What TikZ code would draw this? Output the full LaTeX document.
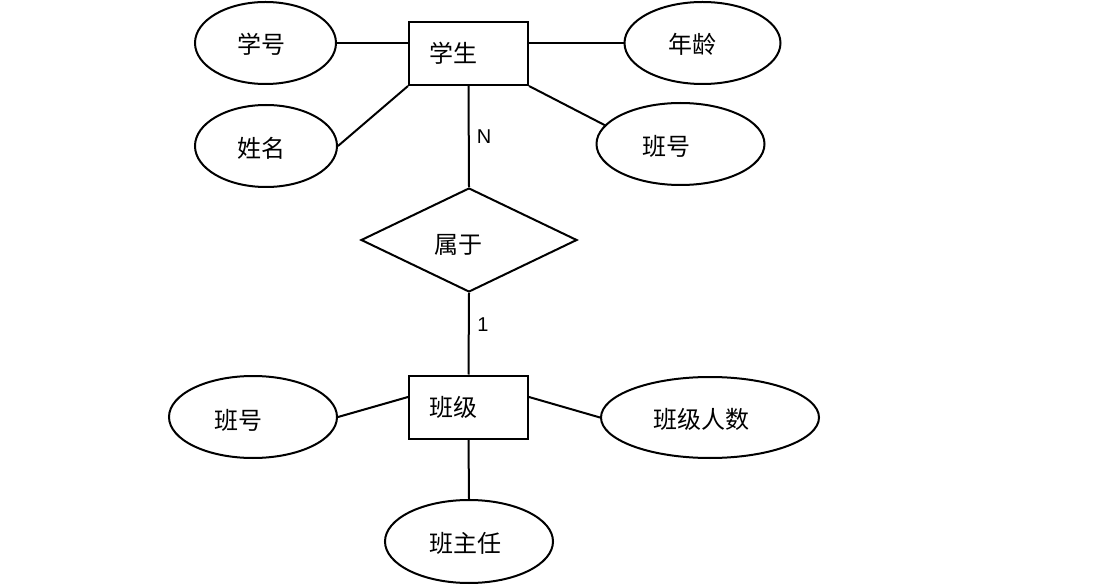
\documentclass[tikz,border=0pt]{standalone}
\usepackage{fontspec}
\setmainfont{Liberation Sans}
\newfontfamily\cjk{Noto Sans CJK SC}
\usetikzlibrary{shapes.geometric}
\newcommand{\lowtxt}[2][2pt]{\raisebox{-#1}[\height][\depth]{#2}}
\begin{document}
\begin{tikzpicture}[x=1pt,y=-1pt,line width=2pt,
  attr/.style={draw,ellipse,inner sep=0pt,font=\cjk\fontsize{24}{28}\selectfont},
  entity/.style={draw,rectangle,minimum width=119pt,minimum height=63pt,inner xsep=20pt,text width=79pt,align=left,font=\cjk\fontsize{24}{28}\selectfont},
  rel/.style={draw,diamond,minimum width=216pt,minimum height=104pt,inner sep=0pt,font=\cjk\fontsize{24}{28}\selectfont},
  card/.style={font=\fontsize{20}{24}\selectfont,inner sep=0pt}]
\useasboundingbox (0,0) rectangle (1106,585);
\node[entity] (s) at (468.5,53.5) {学生};
\node[attr,minimum width=141pt,minimum height=82pt] (xh) at (265.5,43) {\hspace*{-8pt}\lowtxt[1pt]{学号}};
\node[attr,minimum width=156pt,minimum height=82pt] (nl) at (702.5,43) {\hspace*{-20pt}\lowtxt[1pt]{年龄}};
\node[attr,minimum width=142pt,minimum height=82pt] (xm) at (266,146) {\hspace*{-10pt}\lowtxt{姓名}};
\node[attr,minimum width=168pt,minimum height=82pt] (bh) at (680.5,144) {\hspace*{-28pt}\lowtxt{班号}};
\node[rel] (d) at (469,240) {\hspace*{-22pt}\lowtxt[5pt]{属于}};
\node[entity] (c) at (468.5,407) {班级};
\node[attr,minimum width=168pt,minimum height=82pt] (bl) at (253,417) {\hspace*{-30pt}\lowtxt[3pt]{班号}};
\node[attr,minimum width=218pt,minimum height=81pt] (bn) at (710,417.5) {\hspace*{-18pt}\lowtxt{班级人数}};
\node[attr,minimum width=168pt,minimum height=83pt] (bz) at (469,541.5) {\hspace*{-8pt}\lowtxt{班主任}};
\node[card] (n) at (484,137) {N};
\node[card] (one) at (483,325) {1};
\draw (xh.east) -- (xh.east -| s.west);
\draw (s.east |- nl.west) -- (nl.west);
\draw (xm.east) -- (s.south west);
\draw (s.south east) -- (bh.166);
\draw (s.south) -- (d.north);
\draw (d.south) -- (c.north);
\draw (bl.east) -- ([yshift=10pt]c.west);
\draw ([yshift=10pt]c.east) -- (bn.west);
\draw (c.south) -- (bz.north);
\end{tikzpicture}
\end{document}
